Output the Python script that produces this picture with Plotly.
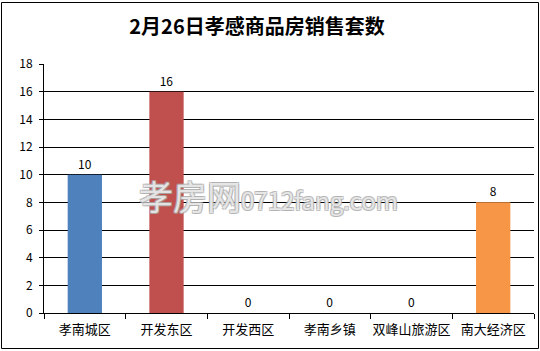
import plotly.graph_objects as go

categories = ["孝南城区", "开发东区", "开发西区", "孝南乡镇", "双峰山旅游区", "南大经济区"]
values = [10, 16, 0, 0, 0, 8]
colors = ["#4F81BD", "#C0504D", "#9BBB59", "#8064A2", "#4BACC6", "#F79646"]
y_ticks = [0, 2, 4, 6, 8, 10, 12, 14, 16, 18]
title_text = "2月26日孝感商品房销售套数"

W, H = 540, 351
ml, mr, mt, mb = 44, 6, 64, 38
pw, ph = W - ml - mr, H - mt - mb

def px_x(x):
    return (x - ml) / pw

def px_y(y):
    return (H - mb - y) / ph

fig = go.Figure(go.Bar(
    x=categories, y=values,
    marker=dict(color=colors, line=dict(width=0)),
    text=[str(v) for v in values], textposition="outside",
    textfont=dict(family="Noto Sans CJK SC", size=12, color="#000"),
    cliponaxis=False,
))

fig.update_layout(
    width=W, height=H,
    margin=dict(l=ml, r=mr, t=mt, b=mb),
    paper_bgcolor="white", plot_bgcolor="white",
    bargap=0.58,
    showlegend=False,
    font=dict(family="Noto Sans CJK SC", size=12, color="#000"),
    title=dict(text="<b>" + title_text + "</b>", x=257 / W, xanchor="center",
               y=1 - 27 / H, yanchor="middle",
               font=dict(family="Noto Sans CJK SC", size=20, color="#000")),
)
fig.update_xaxes(
    type="category", showline=True, linecolor="#000", linewidth=1,
    ticks="outside", tickson="boundaries", ticklen=5, tickcolor="#000",
    showgrid=False, tickfont=dict(size=13), ticklabelstandoff=4, tickangle=0,
    automargin=False,
)
fig.update_yaxes(
    range=[0, 18], tickvals=y_ticks, showline=True, linecolor="#000", linewidth=1,
    ticks="outside", ticklen=4, tickcolor="#000",
    showgrid=True, gridcolor="#000", gridwidth=1, zeroline=False,
    tickfont=dict(size=12), ticklabelstandoff=4, automargin=False,
)

# outer chart border
fig.add_shape(type="rect", xref="paper", yref="paper",
              x0=px_x(1.5), x1=px_x(538.5), y0=px_y(348.5), y1=px_y(2.5),
              line=dict(color="#000", width=1), fillcolor="rgba(0,0,0,0)", layer="above")

# watermark
fig.add_annotation(
    xref="paper", yref="paper", x=px_x(268), y=px_y(196),
    xanchor="center", yanchor="middle", showarrow=False,
    text="<span style='font-size:34px'>孝房网</span><span style='font-size:24px'>0712fang.com</span>",
    font=dict(family="Noto Sans CJK SC", size=24, color="rgba(255,255,255,0.7)",
              shadow="1px 1px 0 #aaa, -1px -1px 0 #aaa, 1px -1px 0 #aaa, -1px 1px 0 #aaa"),
)

fig.write_html("out.html")
